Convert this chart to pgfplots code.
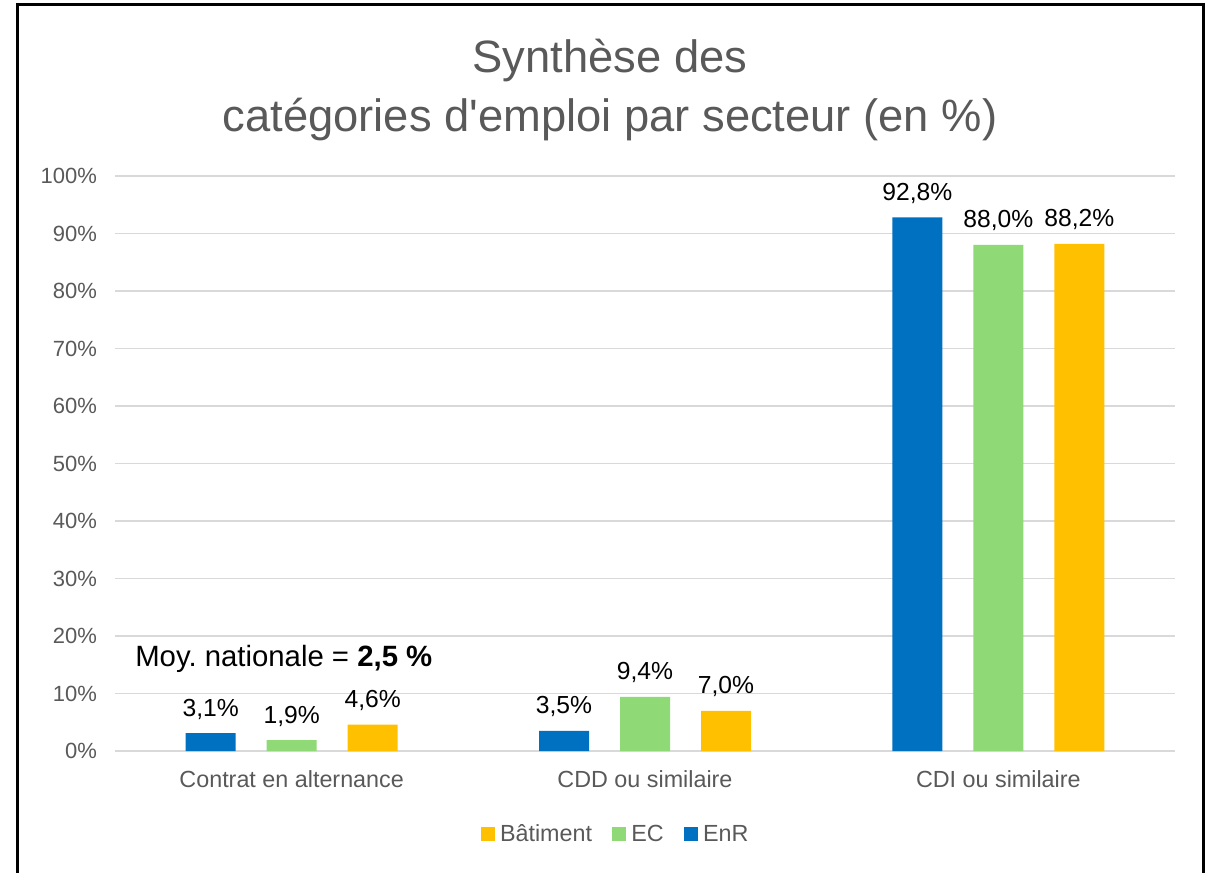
\documentclass[border=0pt]{standalone}
\usepackage{fontspec}
\setmainfont{Liberation Sans}
\newfontfamily\plainfont{Liberation Sans}
\usepackage{pgfplots}
\pgfplotsset{compat=1.18}
\definecolor{cblue}{HTML}{0070C0}
\definecolor{cgreen}{HTML}{8FD977}
\definecolor{cyellow}{HTML}{FFC000}
\definecolor{cgray}{HTML}{595959}
\definecolor{cgrid}{HTML}{D9D9D9}
\frenchspacing
\begin{document}
\begin{tikzpicture}
\path[use as bounding box] (-86.25pt,-90.75pt) rectangle (825.75pt,563.25pt);
\begin{axis}[
  at={(0pt,0pt)}, anchor=south west,
  scale only axis, width=795pt, height=431.25pt,
  ymin=0, ymax=100, xmin=-0.5, xmax=2.5,
  ybar=23.25pt, bar width=37.5pt,
  xtick={0,1,2},
  xticklabels={Contrat en alternance, CDD ou similaire, CDI ou similaire},
  ytick={0,10,...,100},
  yticklabels={0\%,10\%,20\%,30\%,40\%,50\%,60\%,70\%,80\%,90\%,100\%},
  major tick length=0pt,
  axis line style={draw=none},
  ymajorgrids, grid style={cgrid, line width=1.1pt},
  yticklabel style={text=cgray, font=\fontsize{16.5}{18}\selectfont, anchor=east, xshift=-10pt},
  xticklabel style={text=cgray, font=\fontsize{17.5}{20}\selectfont, anchor=north, yshift=-11pt},
  point meta=explicit symbolic,
  nodes near coords=\pgfplotspointmeta,
  every node near coord/.append style={font=\fontsize{18.5}{20}\selectfont, text=black, anchor=base, inner sep=0pt, yshift=12.75pt},
  reverse legend,
  legend columns=3,
  legend style={at={(0.4726,-0.1443)}, anchor=center, draw=none, fill=none,
    font=\fontsize{17.5}{20}\selectfont, text=cgray,
    /tikz/every odd column/.append style={column sep=2pt},
    /tikz/every even column/.append style={column sep=13pt}},
  legend image code/.code={\fill[#1] (0pt,-5.25pt) rectangle (10.5pt,5.25pt);},
]
\addplot[fill=cblue, draw=none] coordinates {(0,3.1) [3,1\%] (1,3.5) [3,5\%] (2,92.8) [92,8\%]};
\addplot[fill=cgreen, draw=none] coordinates {(0,1.9) [1,9\%] (1,9.4) [9,4\%] (2,88.0) [88,0\%]};
\addplot[fill=cyellow, draw=none] coordinates {(0,4.6) [4,6\%] (1,7.0) [7,0\%] (2,88.2) [88,2\%]};
\legend{EnR, EC, Bâtiment}
\end{axis}
\node[anchor=base, text=cgray, font=\fontsize{34}{40}\selectfont] at (371.25pt,508.5pt) {Synthèse des};
\node[anchor=base, text=cgray, font=\plainfont\fontsize{34}{40}\selectfont] at (371.25pt,464.25pt) {catégories d'emploi par secteur (en \%)};
\node[anchor=base west, inner sep=0pt, font=\fontsize{22}{26}\selectfont] at (15pt,63.75pt) {Moy.\ nationale = \textbf{2,5 \%}};
\draw[line width=2.25pt] (-72.75pt,-100pt) -- (-72.75pt,559.5pt) -- (816pt,559.5pt) -- (816pt,-100pt);
\end{tikzpicture}
\end{document}
